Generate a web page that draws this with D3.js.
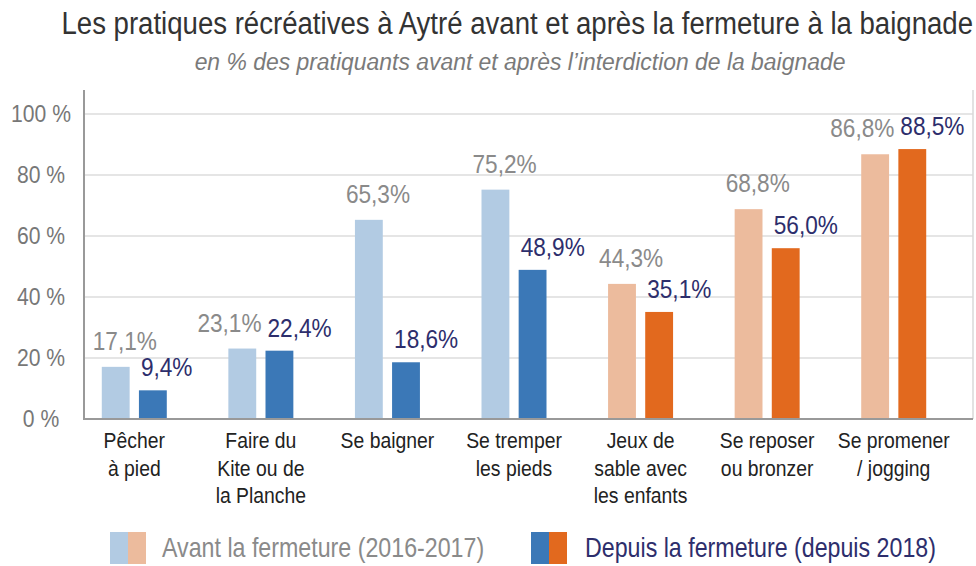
<!DOCTYPE html>
<html><head><meta charset="utf-8">
<script src="https://cdn.jsdelivr.net/npm/d3@7"></script>
<style>body{margin:0;background:#fff}svg{display:block}</style>
</head><body>
<svg id="chart" width="976" height="566"></svg>
<script>
// ---- data ----
const categories = [
  ["Pêcher","à pied"],
  ["Faire du","Kite ou de","la Planche"],
  ["Se baigner"],
  ["Se tremper","les pieds"],
  ["Jeux de","sable avec","les enfants"],
  ["Se reposer","ou bronzer"],
  ["Se promener","/ jogging"]
];
const before = [17.1, 23.1, 65.3, 75.2, 44.3, 68.8, 86.8];
const after  = [9.4, 22.4, 18.6, 48.9, 35.1, 56.0, 88.5];
const groupType = ["eau","eau","eau","eau","plage","plage","plage"];
const yTicks = [0, 20, 40, 60, 80, 100];
const seriesNames = ["Avant la fermeture (2016-2017)", "Depuis la fermeture (depuis 2018)"];
const title = "Les pratiques récréatives à Aytré avant et après la fermeture à la baignade";
const subtitle = "en % des pratiquants avant et après l’interdiction de la baignade";

// ---- style ----
const colors = {
  eau:   {before: "#b2cbe3", after: "#3b78b7"},
  plage: {before: "#ecbb9d", after: "#e2691e"}
};
const FONT = "'Liberation Sans', Arial, sans-serif";
const SX = 0.87; // condensed look

const svg = d3.select("#chart");
const plot = {left: 84, right: 973, top: 90, bottom: 419};

const y = d3.scaleLinear().domain([0, 100]).range([plot.bottom, 114]);
const x = d3.scaleBand().domain(d3.range(categories.length)).range([71, 957]).paddingInner(0).paddingOuter(0);
const sub = d3.scaleBand().domain(["before","after"]).range([-32.5, 32.5]).paddingInner(0.25);

function txt(g, px, py, s, o = {}) {
  const t = g.append("text")
    .attr("transform", `translate(${px},${py}) scale(${o.sx ?? SX},1)`)
    .attr("font-family", FONT)
    .attr("font-size", o.size || 20)
    .attr("fill", o.fill || "#333")
    .attr("text-anchor", o.anchor || "start")
    .text(s);
  if (o.style) t.attr("font-style", o.style);
  return t;
}
const fmt = v => d3.format(".1f")(v).replace(".", ",") + "%";

// title
txt(svg, 973, 34, title, {size: 31, fill: "#333", anchor: "end", sx: 0.89});
txt(svg, 520, 70, subtitle, {size: 24, fill: "#7a7a7a", anchor: "middle", style: "italic", sx: 0.955});

// gridlines
svg.append("g").selectAll("line").data(yTicks.filter(d => d > 0)).join("line")
  .attr("x1", plot.left).attr("x2", plot.right)
  .attr("y1", d => y(d)).attr("y2", d => y(d))
  .attr("stroke", "#dcdcdc").attr("stroke-width", 1.5);

// right frame line
svg.append("line").attr("x1", plot.right).attr("x2", plot.right)
  .attr("y1", plot.top).attr("y2", plot.bottom).attr("stroke", "#d8d8d8").attr("stroke-width", 1.5);

// y tick labels
const yl = svg.append("g");
yTicks.forEach(t => txt(yl, 41, y(t) + 8, t + " %", {size: 24, fill: "#777", anchor: "middle", sx: 0.88}));

// bars
const bars = svg.append("g");
categories.forEach((c, i) => {
  const cx = x(i) + x.bandwidth() / 2;
  const cols = colors[groupType[i]];
  bars.append("rect").attr("x", cx + sub("before")).attr("width", sub.bandwidth())
    .attr("y", y(before[i])).attr("height", y(0) - y(before[i])).attr("fill", cols.before);
  bars.append("rect").attr("x", cx + sub("after")).attr("width", sub.bandwidth())
    .attr("y", y(after[i])).attr("height", y(0) - y(after[i])).attr("fill", cols.after);
});

// axes lines
svg.append("line").attr("x1", plot.left).attr("x2", plot.left).attr("y1", plot.top).attr("y2", plot.bottom + 1)
  .attr("stroke", "#999").attr("stroke-width", 2);
svg.append("line").attr("x1", plot.left).attr("x2", plot.right).attr("y1", plot.bottom).attr("y2", plot.bottom)
  .attr("stroke", "#999").attr("stroke-width", 2);

// value labels
const vl = svg.append("g");
const VS = 26;
categories.forEach((c, i) => {
  const cx = x(i) + x.bandwidth() / 2;
  const g = vl.append("g");
  const darkLeft = cx + sub("after") + 2, darkBase = y(after[i]) - 14;
  txt(g, darkLeft, darkBase, fmt(after[i]), {size: VS, fill: "#2d2e6c"});
  let lx = cx + sub("before") - 9, lb = y(before[i]) - 17;
  const ll = txt(g, lx, lb, fmt(before[i]), {size: VS, fill: "#8a8a8a"});
  const lw = ll.node().getComputedTextLength() * SX;
  // avoid overlap with the dark label
  if (Math.abs(lb - darkBase) < 22 && lx + lw > darkLeft - 6) {
    lx = darkLeft - 6 - lw;
    ll.attr("transform", `translate(${lx},${lb}) scale(${SX},1)`);
  }
});

// category labels
const cl = svg.append("g");
categories.forEach((lines, i) => {
  const cx = x(i) + x.bandwidth() / 2;
  lines.forEach((s, k) => txt(cl, cx, 448 + k * 27.5, s, {size: 22, fill: "#222", anchor: "middle", sx: 0.88}));
});

// legend
const lg = svg.append("g");
const sw = [{x: 110, c: [colors.eau.before, colors.plage.before], t: seriesNames[0], f: "#8a8a8a", tx: 162},
            {x: 531, c: [colors.eau.after, colors.plage.after], t: seriesNames[1], f: "#2d2e6c", tx: 585}];
sw.forEach(s => {
  lg.append("rect").attr("x", s.x).attr("y", 532).attr("width", 18).attr("height", 32).attr("fill", s.c[0]);
  lg.append("rect").attr("x", s.x + 18).attr("y", 532).attr("width", 18).attr("height", 32).attr("fill", s.c[1]);
  txt(lg, s.tx, 557, s.t, {size: 27, fill: s.f, sx: 0.86});
});
</script>
</body></html>
